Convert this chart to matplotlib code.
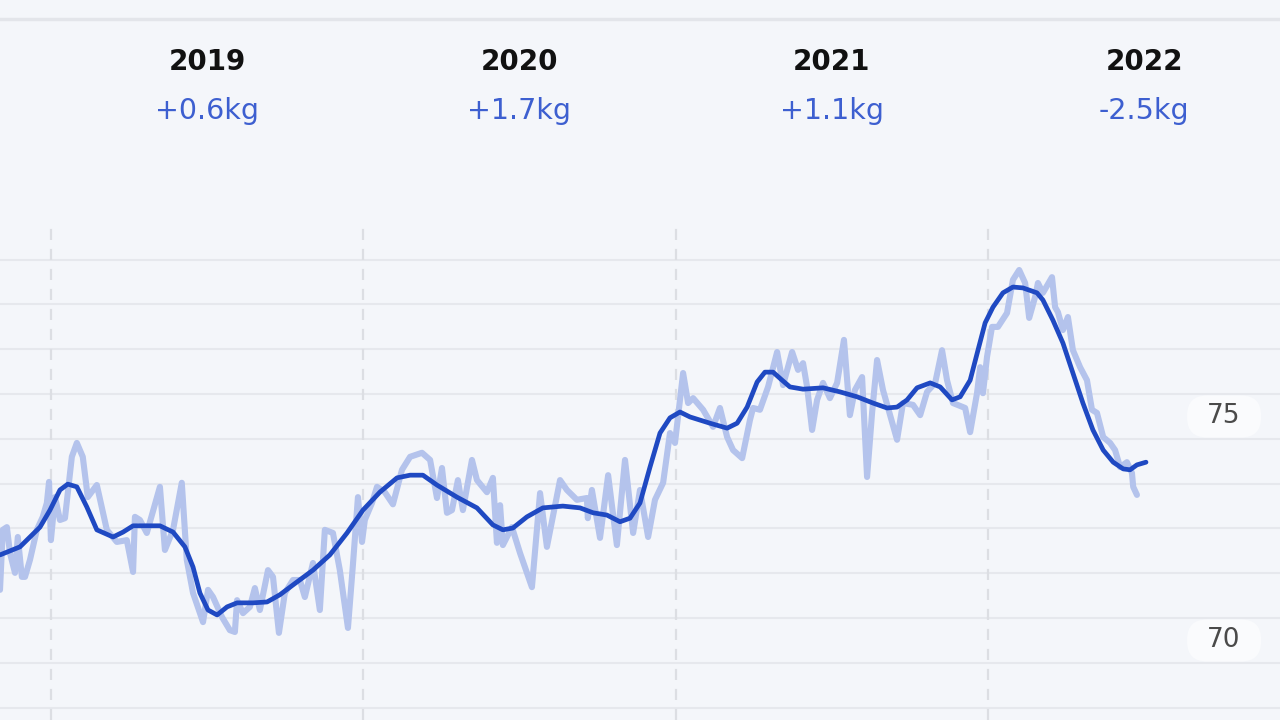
import numpy as np
import matplotlib
matplotlib.use("Agg")
import matplotlib.pyplot as plt
from matplotlib.transforms import blended_transform_factory, IdentityTransform
from matplotlib.lines import Line2D
from matplotlib.patches import FancyBboxPatch

BG = "#F4F6FA"

# year headers
years = [2019, 2020, 2021, 2022]
year_deltas = ["+0.6kg", "+1.7kg", "+1.1kg", "-2.5kg"]

# y-axis labels
ytick_vals = [75, 70]

# raw daily weight (decimal year, kg)
raw_t = [2018.837, 2018.846, 2018.859, 2018.869, 2018.885, 2018.894, 2018.907, 2018.917,
         2018.933, 2018.955, 2018.974, 2018.987, 2018.994, 2019.000, 2019.013, 2019.029,
         2019.045, 2019.067, 2019.083, 2019.102, 2019.118, 2019.147, 2019.179, 2019.211,
         2019.243, 2019.263, 2019.269, 2019.285, 2019.307, 2019.349, 2019.365, 2019.391,
         2019.419, 2019.435, 2019.455, 2019.487, 2019.503, 2019.519, 2019.548, 2019.573,
         2019.589, 2019.596, 2019.615, 2019.637, 2019.653, 2019.669, 2019.695, 2019.711,
         2019.730, 2019.749, 2019.775, 2019.797, 2019.813, 2019.839, 2019.861, 2019.877,
         2019.903, 2019.925, 2019.951, 2019.967, 2019.983, 2019.996, 2020.005, 2020.028,
         2020.044, 2020.069, 2020.095, 2020.124, 2020.150, 2020.188, 2020.214, 2020.236,
         2020.252, 2020.268, 2020.284, 2020.303, 2020.319, 2020.348, 2020.364, 2020.396,
         2020.415, 2020.428, 2020.438, 2020.447, 2020.476, 2020.502, 2020.540, 2020.566,
         2020.588, 2020.630, 2020.652, 2020.684, 2020.716, 2020.719, 2020.732, 2020.758,
         2020.784, 2020.812, 2020.838, 2020.864, 2020.886, 2020.912, 2020.934, 2020.960,
         2020.982, 2020.998, 2021.024, 2021.040, 2021.056, 2021.088, 2021.120, 2021.142,
         2021.165, 2021.184, 2021.213, 2021.238, 2021.248, 2021.270, 2021.296, 2021.325,
         2021.344, 2021.373, 2021.392, 2021.408, 2021.421, 2021.437, 2021.453, 2021.472,
         2021.494, 2021.517, 2021.539, 2021.558, 2021.574, 2021.597, 2021.613, 2021.629,
         2021.645, 2021.664, 2021.709, 2021.728, 2021.760, 2021.783, 2021.805, 2021.831,
         2021.853, 2021.869, 2021.888, 2021.927, 2021.943, 2021.965, 2021.975, 2021.984,
         2021.997, 2022.013, 2022.032, 2022.061, 2022.080, 2022.100, 2022.119, 2022.132,
         2022.151, 2022.160, 2022.176, 2022.205, 2022.215, 2022.224, 2022.240, 2022.256,
         2022.272, 2022.295, 2022.317, 2022.333, 2022.349, 2022.369, 2022.391, 2022.407,
         2022.423, 2022.445, 2022.461, 2022.465, 2022.477]
raw_kg = [71.13, 72.47, 72.53, 71.95, 71.51, 72.31, 71.42, 71.42,
          71.80, 72.47, 72.76, 73.07, 73.54, 72.24, 73.20, 72.69,
          72.73, 74.10, 74.41, 74.10, 73.20, 73.47, 72.47, 72.20,
          72.24, 71.53, 72.76, 72.69, 72.40, 73.43, 72.02, 72.47,
          73.52, 71.80, 71.06, 70.41, 71.13, 70.97, 70.52, 70.23,
          70.19, 70.90, 70.61, 70.75, 71.17, 70.68, 71.57, 71.42,
          70.17, 71.06, 71.35, 71.35, 70.97, 71.73, 70.68, 72.47,
          72.40, 71.57, 70.28, 71.70, 73.20, 72.20, 72.69, 73.07,
          73.43, 73.31, 73.04, 73.81, 74.10, 74.19, 74.03, 73.18,
          73.85, 72.85, 72.91, 73.58, 72.91, 74.03, 73.58, 73.31,
          73.63, 72.18, 73.02, 72.13, 72.53, 71.95, 71.19, 73.29,
          72.09, 73.58, 73.36, 73.14, 73.18, 72.73, 73.36, 72.29,
          73.69, 72.13, 74.03, 72.40, 73.36, 72.31, 73.14, 73.52,
          74.63, 74.41, 75.97, 75.30, 75.41, 75.15, 74.77, 75.19,
          74.54, 74.25, 74.07, 74.92, 75.19, 75.15, 75.66, 76.44,
          75.70, 76.44, 76.04, 76.19, 75.66, 74.70, 75.37, 75.75,
          75.41, 75.75, 76.71, 75.03, 75.59, 75.88, 73.65, 75.08,
          76.26, 75.59, 74.48, 75.30, 75.26, 75.03, 75.55, 75.75,
          76.48, 75.81, 75.30, 75.19, 74.65, 75.52, 76.10, 75.52,
          76.33, 77.00, 77.00, 77.31, 78.05, 78.27, 77.98, 77.20,
          77.67, 77.98, 77.76, 78.11, 77.44, 77.33, 76.93, 77.22,
          76.48, 76.10, 75.81, 75.15, 75.08, 74.54, 74.41, 74.25,
          73.87, 73.98, 73.74, 73.43, 73.25]

# trend line (decimal year, kg)
trend_t = [2018.837, 2018.901, 2018.965, 2018.997, 2019.029, 2019.054, 2019.083, 2019.115,
           2019.147, 2019.199, 2019.231, 2019.263, 2019.349, 2019.391, 2019.429, 2019.455,
           2019.477, 2019.503, 2019.532, 2019.564, 2019.596, 2019.647, 2019.692, 2019.733,
           2019.775, 2019.839, 2019.893, 2019.948, 2019.999, 2020.053, 2020.108, 2020.150,
           2020.191, 2020.236, 2020.300, 2020.364, 2020.415, 2020.447, 2020.479, 2020.524,
           2020.575, 2020.639, 2020.694, 2020.736, 2020.780, 2020.822, 2020.854, 2020.886,
           2020.918, 2020.950, 2020.982, 2021.014, 2021.046, 2021.078, 2021.110, 2021.165,
           2021.197, 2021.229, 2021.261, 2021.286, 2021.312, 2021.341, 2021.366, 2021.408,
           2021.472, 2021.526, 2021.581, 2021.632, 2021.677, 2021.709, 2021.741, 2021.773,
           2021.815, 2021.847, 2021.885, 2021.911, 2021.943, 2021.968, 2021.991, 2022.016,
           2022.048, 2022.080, 2022.112, 2022.157, 2022.176, 2022.208, 2022.240, 2022.272,
           2022.304, 2022.336, 2022.369, 2022.401, 2022.433, 2022.455, 2022.477, 2022.506]
trend_kg = [71.91, 72.09, 72.53, 72.91, 73.36, 73.49, 73.43, 72.98,
            72.47, 72.31, 72.42, 72.56, 72.56, 72.42, 72.09, 71.64,
            71.06, 70.68, 70.57, 70.75, 70.84, 70.84, 70.86, 71.02,
            71.24, 71.57, 71.91, 72.40, 72.91, 73.31, 73.63, 73.69,
            73.69, 73.47, 73.20, 72.96, 72.58, 72.47, 72.51, 72.76,
            72.96, 73.00, 72.96, 72.85, 72.80, 72.65, 72.73, 73.07,
            73.87, 74.63, 74.97, 75.10, 74.99, 74.92, 74.85, 74.74,
            74.85, 75.21, 75.77, 75.99, 75.99, 75.81, 75.66, 75.61,
            75.64, 75.55, 75.44, 75.30, 75.19, 75.21, 75.37, 75.64,
            75.75, 75.66, 75.37, 75.44, 75.81, 76.48, 77.09, 77.44,
            77.76, 77.89, 77.87, 77.76, 77.60, 77.15, 76.64, 75.97,
            75.30, 74.70, 74.25, 73.98, 73.83, 73.81, 73.92, 73.98]

plt.rcParams["font.family"] = ["DejaVu Sans"]

fig = plt.figure(figsize=(12.8, 7.2), dpi=100)
fig.patch.set_facecolor(BG)
ax = fig.add_axes([0, 0, 1, 1])
ax.set_facecolor(BG)
ax.set_xlim(2018.837, 2022.935)
ax.set_ylim(68.225, 84.297)
ax.axis("off")

# horizontal grid, every kg
for g in np.arange(68.5, 79.0, 1.0):
    ax.axhline(g, color="#E6E8ED", lw=1.5, zorder=1)

# year boundaries
ax.vlines(years, 68.225, 79.27, colors="#DCDEE3", lw=1.6,
          linestyles=(0, (5, 4)), zorder=1)

# top separator
fig.add_artist(Line2D([0, 1], [0.9736, 0.9736], transform=fig.transFigure,
                      color="#E3E5EA", lw=2.5))

ax.plot(raw_t, raw_kg, color="#B4C3EC", lw=4.4, solid_joinstyle="round",
        solid_capstyle="round", zorder=2)
ax.plot(trend_t, trend_kg, color="#1F49C2", lw=3.4, solid_joinstyle="round",
        solid_capstyle="round", zorder=3)

tr = blended_transform_factory(ax.transData, ax.transAxes)
for yr, d in zip(years, year_deltas):
    ax.text(yr + 0.5, 0.9028, str(yr), transform=tr, ha="center", va="baseline",
            fontsize=20, fontweight="bold", color="#111111")
    ax.text(yr + 0.5, 0.8347, d, transform=tr, ha="center", va="baseline",
            fontsize=20.5, color="#3D5FD0")

# y labels in soft pills at the right edge
for v in ytick_vals:
    cx, cy = ax.transData.transform((2022.756, v))
    pill = FancyBboxPatch((cx - 37, cy - 21), 74, 42, transform=IdentityTransform(),
                          boxstyle="round,pad=0,rounding_size=20",
                          fc="#FAFBFD", ec="none", zorder=4, clip_on=False)
    ax.add_artist(pill)
    ax.text(2022.756, v, str(v), ha="center", va="center",
            fontsize=19, color="#4A4A4A", zorder=5)

fig.savefig("out.png", dpi=100, facecolor=BG)
